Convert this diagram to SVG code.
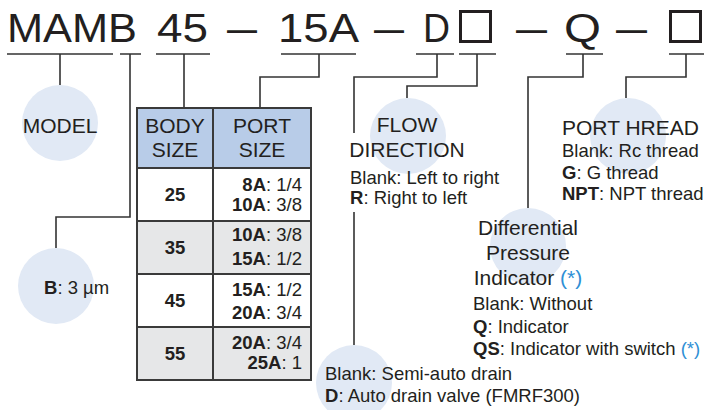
<svg xmlns="http://www.w3.org/2000/svg" width="704" height="410" viewBox="0 0 704 410">
<style>
.ln{stroke:#333;stroke-width:1.6;fill:none}
.c{fill:#E1E9F5}
.t{font-family:"Liberation Sans",Arial,sans-serif;fill:#231F20}
.ti{font-size:41px}
.hd{font-size:21px}
.sm{font-size:18.5px}
.b{font-weight:bold}
.bl{fill:#2E8FD5}
.sq{fill:none;stroke:#231F20;stroke-width:3}
.cell{stroke:#3a3a3a;stroke-width:2}
</style>
<rect width="704" height="410" fill="#fff"/>
<g id="title">
<text class="t ti" x="7" y="42" textLength="130" lengthAdjust="spacingAndGlyphs">MAMB</text>
<text class="t ti" x="157" y="42" textLength="51" lengthAdjust="spacingAndGlyphs">45</text>
<text class="t ti" x="227" y="42" textLength="30" lengthAdjust="spacingAndGlyphs">—</text>
<text class="t ti" x="278" y="42" textLength="81" lengthAdjust="spacingAndGlyphs">15A</text>
<text class="t ti" x="374" y="42" textLength="30" lengthAdjust="spacingAndGlyphs">—</text>
<text class="t ti" x="423" y="42" textLength="27" lengthAdjust="spacingAndGlyphs">D</text>
<rect class="sq" x="460.5" y="11.5" width="30" height="30"/>
<text class="t ti" x="516" y="42" textLength="31" lengthAdjust="spacingAndGlyphs">—</text>
<text class="t ti" x="564" y="42" textLength="37" lengthAdjust="spacingAndGlyphs">Q</text>
<text class="t ti" x="616" y="42" textLength="31" lengthAdjust="spacingAndGlyphs">—</text>
<rect class="sq" x="670.5" y="11.5" width="30" height="30"/>
</g>
<g id="connectors">
<path class="ln" d="M7,54 H113 M60,54 V85"/>
<path class="ln" d="M120,54 H141 M130,54 V217 H56 V248"/>
<path class="ln" d="M156,54 H210 M184,54 V108"/>
<path class="ln" d="M281,54 H356 M319,54 V77 H260 V108"/>
<path class="ln" d="M416,54 H454 M437,54 V77 H354 V133 M354,212 V345"/>
<path class="ln" d="M459,54 H496 M477,54 V86 H407 V98"/>
<path class="ln" d="M566,54 H603 M583,54 V77 H528 V208"/>
<path class="ln" d="M669,54 H704 M686,54 V77 H626 V98"/>
</g>
<g id="model">
<circle class="c" cx="60" cy="123" r="38"/>
<text class="t hd" x="60" y="133" text-anchor="middle">MODEL</text>
</g>
<g id="filtration">
<circle class="c" cx="56" cy="286" r="38"/>
<text class="t sm" x="44" y="294"><tspan class="b">B</tspan>: 3 µm</text>
</g>
<g id="size-table">
<rect class="cell" x="137" y="108" width="174" height="60" fill="#B8CCE8"/>
<line class="cell" x1="213" y1="108" x2="213" y2="168"/>
<rect class="cell" x="137" y="168" width="174" height="53" fill="#fff"/>
<rect class="cell" x="137" y="221" width="174" height="53" fill="#E6E7E8"/>
<rect class="cell" x="137" y="274" width="174" height="53" fill="#fff"/>
<rect class="cell" x="137" y="327" width="174" height="53" fill="#E6E7E8"/>
<line class="cell" x1="213" y1="168" x2="213" y2="380"/>
<text class="t hd" x="175" y="133" text-anchor="middle">BODY</text>
<text class="t hd" x="175" y="157" text-anchor="middle">SIZE</text>
<text class="t hd" x="262" y="133" text-anchor="middle">PORT</text>
<text class="t hd" x="262" y="157" text-anchor="middle">SIZE</text>
<text class="t sm b" x="175" y="201" text-anchor="middle" font-size="19.5">25</text>
<text class="t sm b" x="175" y="254" text-anchor="middle" font-size="19.5">35</text>
<text class="t sm b" x="175" y="307" text-anchor="middle" font-size="19.5">45</text>
<text class="t sm b" x="175" y="360" text-anchor="middle" font-size="19.5">55</text>
<text class="t sm" x="302" y="191" text-anchor="end"><tspan class="b">8A</tspan>: 1/4</text>
<text class="t sm" x="302" y="211" text-anchor="end"><tspan class="b">10A</tspan>: 3/8</text>
<text class="t sm" x="302" y="241" text-anchor="end"><tspan class="b">10A</tspan>: 3/8</text>
<text class="t sm" x="302" y="265" text-anchor="end"><tspan class="b">15A</tspan>: 1/2</text>
<text class="t sm" x="302" y="296" text-anchor="end"><tspan class="b">15A</tspan>: 1/2</text>
<text class="t sm" x="302" y="319" text-anchor="end"><tspan class="b">20A</tspan>: 3/4</text>
<text class="t sm" x="302" y="349" text-anchor="end"><tspan class="b">20A</tspan>: 3/4</text>
<text class="t sm" x="302" y="369" text-anchor="end"><tspan class="b">25A</tspan>: 1</text>
</g>
<g id="flow-direction">
<circle class="c" cx="408" cy="136" r="38"/>
<text class="t hd" x="407" y="132" text-anchor="middle">FLOW</text>
<text class="t hd" x="407" y="157" text-anchor="middle">DIRECTION</text>
<text class="t sm" x="350" y="184">Blank: Left to right</text>
<text class="t sm" x="350" y="204"><tspan class="b">R</tspan>: Right to left</text>
</g>
<g id="port-thread">
<circle class="c" cx="628" cy="136" r="38"/>
<text class="t hd" x="562" y="135">PORT HREAD</text>
<text class="t sm" x="562" y="157">Blank: Rc thread</text>
<text class="t sm" x="562" y="179"><tspan class="b">G</tspan>: G thread</text>
<text class="t sm" x="562" y="200"><tspan class="b">NPT</tspan>: NPT thread</text>
</g>
<g id="indicator">
<circle class="c" cx="528" cy="246" r="38"/>
<text class="t hd" x="528" y="235" text-anchor="middle">Differential</text>
<text class="t hd" x="528" y="260" text-anchor="middle">Pressure</text>
<text class="t hd" x="528" y="285" text-anchor="middle">Indicator <tspan class="bl">(*)</tspan></text>
<text class="t sm" x="473" y="310">Blank: Without</text>
<text class="t sm" x="473" y="333"><tspan class="b">Q</tspan>: Indicator</text>
<text class="t sm" x="473" y="355"><tspan class="b">QS</tspan>: Indicator with switch <tspan class="bl">(*)</tspan></text>
</g>
<g id="drain">
<circle class="c" cx="354" cy="383" r="38"/>
<text class="t sm" x="325" y="380">Blank: Semi-auto drain</text>
<text class="t sm" x="325" y="402"><tspan class="b">D</tspan>: Auto drain valve (FMRF300)</text>
</g>
</svg>
